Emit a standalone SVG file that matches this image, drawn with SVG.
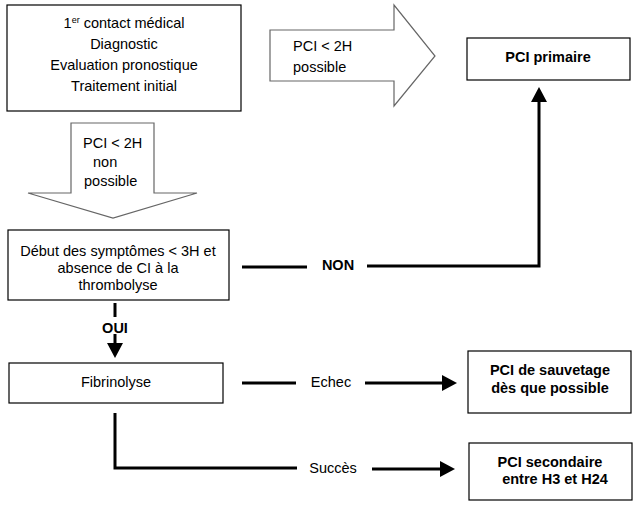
<svg xmlns="http://www.w3.org/2000/svg" width="641" height="511" viewBox="0 0 641 511">
<style>
text{font-family:"Liberation Sans",Arial,sans-serif;font-size:14.5px;fill:#000}
.c{text-anchor:middle}
.b{font-weight:bold}
.box{fill:#fff;stroke:#000;stroke-width:1.2}
.big{fill:#fff;stroke:#666;stroke-width:1.2}
.ln{fill:none;stroke:#000;stroke-width:3}
</style>
<defs>
<marker id="ah" viewBox="0 0 15 16" markerUnits="userSpaceOnUse" markerWidth="15" markerHeight="16" refX="3" refY="8" orient="auto">
<path d="M0,0 L15,8 L0,16 z" fill="#000"/>
</marker>
</defs>
<rect width="641" height="511" fill="#fff"/>
<g id="connectors">
<line class="ln" x1="242" y1="267" x2="307" y2="267"/>
<polyline class="ln" points="367,266 539,266 539,99" marker-end="url(#ah)"/>
<line class="ln" x1="115" y1="303" x2="115" y2="317"/>
<line class="ln" x1="115" y1="334" x2="115" y2="346" marker-end="url(#ah)"/>
<line class="ln" x1="242" y1="383" x2="296" y2="383"/>
<line class="ln" x1="365" y1="383" x2="445" y2="383" marker-end="url(#ah)"/>
<polyline class="ln" points="115,413 115,468 297,468"/>
<line class="ln" x1="372" y1="469" x2="443" y2="469" marker-end="url(#ah)"/>
<text class="c b" x="338" y="270">NON</text>
<text class="c b" x="115" y="333">OUI</text>
<text class="c" x="331" y="387">Echec</text>
<text class="c" x="333" y="473">Succès</text>
</g>
<g id="contact">
<rect class="box" x="7" y="5" width="234" height="106"/>
<text class="c" x="124" y="28">1<tspan font-size="9px" dy="-5">er</tspan><tspan dy="5"> contact médical</tspan></text>
<text class="c" x="124" y="49">Diagnostic</text>
<text class="c" x="124" y="70">Evaluation pronostique</text>
<text class="c" x="124" y="91">Traitement initial</text>
</g>
<g id="arrow-possible">
<polygon class="big" points="270,30 394,30 394,5 435,56 394,106 394,81 270,81"/>
<text x="293" y="51">PCI &lt; 2H</text>
<text x="293" y="72">possible</text>
</g>
<g id="arrow-non-possible">
<polygon class="big" points="71,123 154,123 154,193 197,193 113,218 28,193 71,193"/>
<text x="83" y="148">PCI &lt; 2H</text>
<text x="93" y="167">non</text>
<text x="84" y="186">possible</text>
</g>
<g id="pci-primaire">
<rect class="box" x="467" y="38" width="163" height="42"/>
<text class="c b" x="548" y="62">PCI primaire</text>
</g>
<g id="debut">
<rect class="box" x="8" y="230" width="221" height="70"/>
<text class="c" x="118" y="256">Début des symptômes &lt; 3H et</text>
<text class="c" x="118" y="273">absence de CI à la</text>
<text class="c" x="118" y="290">thrombolyse</text>
</g>
<g id="fibrinolyse">
<rect class="box" x="9" y="363" width="214" height="40"/>
<text class="c" x="116" y="387">Fibrinolyse</text>
</g>
<g id="pci-sauvetage">
<rect class="box" x="468" y="351" width="163" height="62"/>
<text class="c b" x="550" y="375">PCI de sauvetage</text>
<text class="c b" x="550" y="393">dès que possible</text>
</g>
<g id="pci-secondaire">
<rect class="box" x="469" y="443" width="163" height="57"/>
<text class="c b" x="550" y="467">PCI secondaire</text>
<text class="c b" x="555" y="484">entre H3 et H24</text>
</g>
</svg>
